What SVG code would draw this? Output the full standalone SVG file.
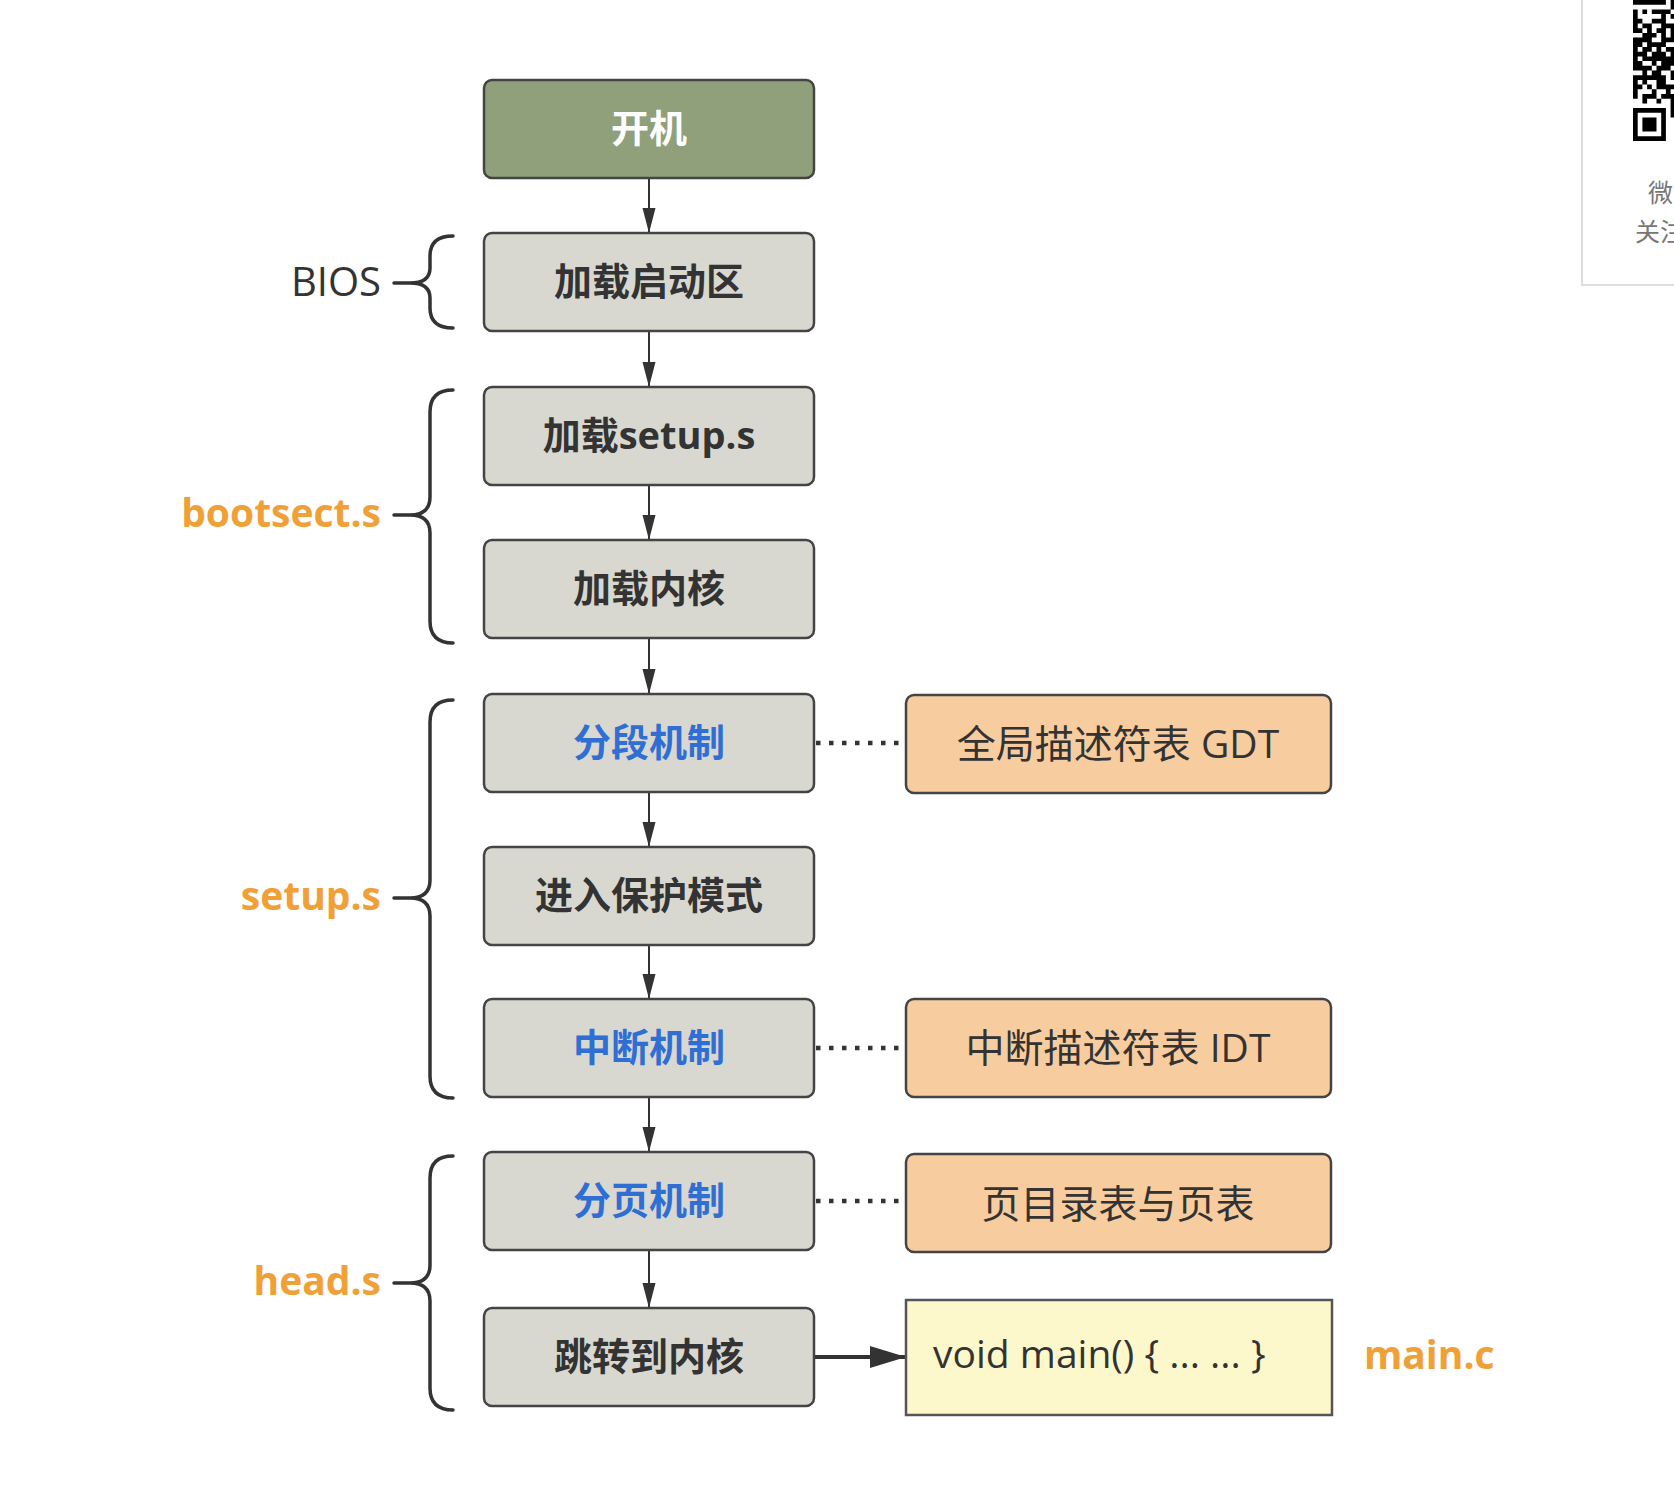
<svg xmlns="http://www.w3.org/2000/svg" width="1674" height="1504" viewBox="0 0 1674 1504">
<defs>
<style>
.box{stroke:#444;stroke-width:2.5}
.gray{fill:#d8d8d0}
.green{fill:#8fa07a}
.orange{fill:#f7cd9f}
.yellow{fill:#fdf8cb;stroke:#555;stroke-width:2.5}
.t{font-family:"Open Sans","Noto Sans CJK SC",sans-serif;font-size:38px;font-weight:bold;text-anchor:middle;fill:#333}
.w{fill:#ffffff}
.b{fill:#2f6fd4}
.r{font-family:"Open Sans","Noto Sans CJK SC",sans-serif;font-size:39px;fill:#333}
.lab{font-family:"Open Sans","Noto Sans CJK SC",sans-serif;font-size:39px;font-weight:bold;fill:#efa037}
.brace{fill:none;stroke:#333;stroke-width:3.5;stroke-linecap:round;stroke-linejoin:round}
.arrow{fill:none;stroke:#333;stroke-width:2}
.main{fill:none;stroke:#333;stroke-width:4}
.dot{fill:none;stroke:#333;stroke-width:4.5;stroke-dasharray:4.5 8.5}
</style>
<marker id="ah" markerUnits="userSpaceOnUse" markerWidth="26" markerHeight="14" refX="25" refY="7" orient="auto">
<path d="M0,0.5 L25,7 L0,13.5 z" fill="#333"/>
</marker>
<marker id="ahBig" markerUnits="userSpaceOnUse" markerWidth="38" markerHeight="24" refX="36" refY="12" orient="auto">
<path d="M0,1 L36,12 L0,23 z" fill="#333"/>
</marker>
</defs>
<rect width="1674" height="1504" fill="#ffffff"/>

<g id="qr-panel">
<path d="M1582,0 V285 H1674" fill="none" stroke="#dddddd" stroke-width="2"/>
<g transform="translate(1633,0) scale(4.7)">
<path fill="#000" d="M0 0h7v1h-7z M8 0h1v1h-1z M8 1h1v1h-1z M0 2h1v1h-1z M2 2h1v1h-1z M4 2h4v1h-4z M0 3h1v1h-1z M6 3h1v1h-1z M8 3h1v1h-1z M0 4h2v1h-2z M4 4h3v1h-3z M0 5h1v1h-1z M2 5h2v1h-2z M6 5h3v1h-3z M0 6h2v1h-2z M3 6h1v1h-1z M5 6h2v1h-2z M8 6h1v1h-1z M2 7h3v1h-3z M6 7h1v1h-1z M8 7h1v1h-1z M0 8h4v1h-4z M6 8h3v1h-3z M0 9h2v1h-2z M3 9h4v1h-4z M0 10h1v1h-1z M2 10h2v1h-2z M5 10h1v1h-1z M7 10h2v1h-2z M0 11h3v1h-3z M4 11h3v1h-3z M8 11h1v1h-1z M0 12h1v1h-1z M2 12h7v1h-7z M0 13h2v1h-2z M4 13h1v1h-1z M6 13h3v1h-3z M0 14h4v1h-4z M5 14h3v1h-3z M2 15h1v1h-1z M4 15h2v1h-2z M8 15h1v1h-1z M0 16h7v1h-7z M8 16h1v1h-1z M0 17h1v1h-1z M2 17h1v1h-1z M5 17h2v1h-2z M0 18h2v1h-2z M3 18h1v1h-1z M5 18h4v1h-4z M0 19h1v1h-1z M4 19h1v1h-1z M7 19h1v1h-1z M0 20h1v1h-1z M2 20h3v1h-3z M6 20h3v1h-3z M2 21h1v1h-1z M5 21h1v1h-1z M8 21h1v1h-1z M8 22h1v1h-1z M8 23h1v2h-1z"/>
<path fill="#000" fill-rule="evenodd" d="M0 23h7v7h-7z M1 24h5v5h-5z M2 25h3v3h-3z"/>
</g>
<text x="1648" y="202" font-family="Noto Sans CJK SC, sans-serif" font-size="25" fill="#777">微</text>
<text x="1635" y="241" font-family="Noto Sans CJK SC, sans-serif" font-size="25" fill="#777">关注</text>
</g>

<g id="connectors">
<line class="arrow" x1="649" y1="178" x2="649" y2="233" marker-end="url(#ah)"/>
<line class="arrow" x1="649" y1="331" x2="649" y2="387" marker-end="url(#ah)"/>
<line class="arrow" x1="649" y1="485" x2="649" y2="540" marker-end="url(#ah)"/>
<line class="arrow" x1="649" y1="638" x2="649" y2="694" marker-end="url(#ah)"/>
<line class="arrow" x1="649" y1="792" x2="649" y2="847" marker-end="url(#ah)"/>
<line class="arrow" x1="649" y1="945" x2="649" y2="999" marker-end="url(#ah)"/>
<line class="arrow" x1="649" y1="1097" x2="649" y2="1152" marker-end="url(#ah)"/>
<line class="arrow" x1="649" y1="1250" x2="649" y2="1308" marker-end="url(#ah)"/>
<line class="main" x1="814" y1="1357" x2="906" y2="1357" marker-end="url(#ahBig)"/>
<line class="dot" x1="816" y1="743" x2="904" y2="743"/>
<line class="dot" x1="816" y1="1048" x2="904" y2="1048"/>
<line class="dot" x1="816" y1="1201" x2="904" y2="1201"/>
</g>

<g id="braces">
<path class="brace" d="M453,236 Q430,236 430,256 L430,268 Q430,283 410,283 L394,283 L410,283 Q430,283 430,298 L430,308 Q430,328 453,328"/>
<path class="brace" d="M453,390 Q430,390 430,412 L430,497 Q430,515 410,515 L394,515 L410,515 Q430,515 430,533 L430,621 Q430,643 453,643"/>
<path class="brace" d="M453,700 Q430,700 430,722 L430,880 Q430,898 410,898 L394,898 L410,898 Q430,898 430,916 L430,1076 Q430,1098 453,1098"/>
<path class="brace" d="M453,1156 Q430,1156 430,1178 L430,1265 Q430,1283 410,1283 L394,1283 L410,1283 Q430,1283 430,1301 L430,1388 Q430,1410 453,1410"/>
</g>

<g id="labels">
<text x="381" y="296" font-family="Open Sans, sans-serif" font-size="40" fill="#333" text-anchor="end">BIOS</text>
<text class="lab" x="381" y="527" text-anchor="end">bootsect.s</text>
<text class="lab" x="381" y="910" text-anchor="end">setup.s</text>
<text class="lab" x="381" y="1295" text-anchor="end">head.s</text>
<text class="lab" x="1364" y="1369">main.c</text>
</g>

<g id="n-boot">
<rect class="box green" x="484" y="80" width="330" height="98" rx="8"/>
<text class="t w" x="649" y="142">开机</text>
</g>
<g id="n-loadboot">
<rect class="box gray" x="484" y="233" width="330" height="98" rx="8"/>
<text class="t" x="649" y="295">加载启动区</text>
</g>
<g id="n-loadsetup">
<rect class="box gray" x="484" y="387" width="330" height="98" rx="8"/>
<text class="t" x="649" y="449">加载setup.s</text>
</g>
<g id="n-loadkernel">
<rect class="box gray" x="484" y="540" width="330" height="98" rx="8"/>
<text class="t" x="649" y="602">加载内核</text>
</g>
<g id="n-seg">
<rect class="box gray" x="484" y="694" width="330" height="98" rx="8"/>
<text class="t b" x="649" y="756">分段机制</text>
</g>
<g id="n-protect">
<rect class="box gray" x="484" y="847" width="330" height="98" rx="8"/>
<text class="t" x="649" y="909">进入保护模式</text>
</g>
<g id="n-int">
<rect class="box gray" x="484" y="999" width="330" height="98" rx="8"/>
<text class="t b" x="649" y="1061">中断机制</text>
</g>
<g id="n-page">
<rect class="box gray" x="484" y="1152" width="330" height="98" rx="8"/>
<text class="t b" x="649" y="1214">分页机制</text>
</g>
<g id="n-jump">
<rect class="box gray" x="484" y="1308" width="330" height="98" rx="8"/>
<text class="t" x="649" y="1370">跳转到内核</text>
</g>

<g id="n-gdt">
<rect class="box orange" x="906" y="695" width="425" height="98" rx="8"/>
<text class="r" x="1118" y="758" text-anchor="middle">全局描述符表 GDT</text>
</g>
<g id="n-idt">
<rect class="box orange" x="906" y="999" width="425" height="98" rx="8"/>
<text class="r" x="1118" y="1062" text-anchor="middle">中断描述符表 IDT</text>
</g>
<g id="n-pagetable">
<rect class="box orange" x="906" y="1154" width="425" height="98" rx="8"/>
<text class="r" x="1118" y="1218" text-anchor="middle">页目录表与页表</text>
</g>
<g id="n-main">
<rect class="yellow" x="906" y="1300" width="426" height="115"/>
<text class="r" x="933" y="1368" font-size="40">void main() { ... ... }</text>
</g>
</svg>
